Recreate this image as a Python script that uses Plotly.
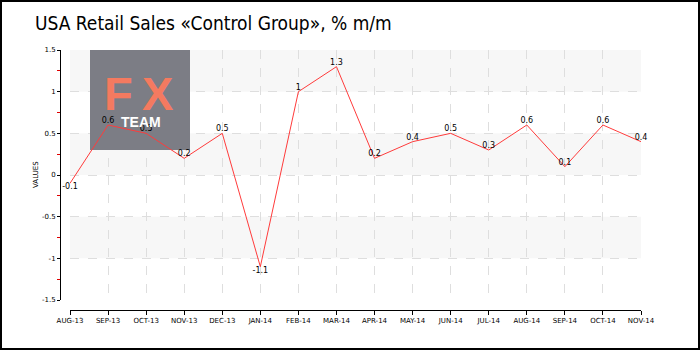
import plotly.graph_objects as go

months = ["AUG-13", "SEP-13", "OCT-13", "NOV-13", "DEC-13", "JAN-14", "FEB-14", "MAR-14",
          "APR-14", "MAY-14", "JUN-14", "JUL-14", "AUG-14", "SEP-14", "OCT-14", "NOV-14"]
values = [-0.1, 0.6, 0.5, 0.2, 0.5, -1.1, 1, 1.3, 0.2, 0.4, 0.5, 0.3, 0.6, 0.1, 0.6, 0.4]
y_ticks = [1.5, 1, 0.5, 0, -0.5, -1, -1.5]
y_tick_labels = ["1.5", "1", "0.5", "0", "-0.5", "-1", "-1.5"]
bands = [(1, 1.5), (0, 0.5), (-1, -0.5)]

W, H = 700, 350
ML, MR, MT, MB = 60, 59, 50, 40
PW, PH = W - ML - MR, H - MT - MB
XPAD, YPAD = 10, 10  # gap between axis lines and plot area
Y_MIN, Y_MAX = -1.5, 1.5

x_idx = list(range(len(months)))
labels = [str(v) for v in values]
positions = ["bottom center" if v < 0 else "top center" for v in values]

# pixel -> data helpers for the watermark box (decoration, not data)
def px_to_x(px):
    return (px - ML - XPAD) / (PW - XPAD) * (len(months) - 1)

def px_to_y(py):
    return Y_MAX - (py - MT) / (PH - YPAD) * (Y_MAX - Y_MIN)

wx0, wx1, wy0, wy1 = px_to_x(90), px_to_x(190), px_to_y(150), px_to_y(50)

fig = go.Figure()
fig.add_trace(go.Scatter(
    x=[wx0, wx1, wx1, wx0, wx0], y=[wy0, wy0, wy1, wy1, wy0], mode="lines",
    fill="toself", fillcolor="#7c7d85", line=dict(width=0), hoverinfo="skip",
))
fig.add_trace(go.Scatter(
    x=x_idx, y=values, mode="lines+text", text=labels, textposition=positions,
    line=dict(color="#ff3b3b", width=1),
    textfont=dict(family="DejaVu Sans", size=8, color="#000"),
    cliponaxis=False, hoverinfo="skip",
))

shapes = []
for y0, y1 in bands:
    shapes.append(dict(type="rect", xref="x domain", yref="y", x0=0, x1=1, y0=y0, y1=y1,
                       fillcolor="#f7f7f7", line=dict(width=0), layer="below"))
# outer border
shapes.append(dict(type="rect", xref="paper", yref="paper",
                   x0=-(ML - 1) / PW, x1=1 + (MR - 1) / PW,
                   y0=-(MB - 1) / PH, y1=1 + (MT - 1) / PH,
                   line=dict(color="#000", width=2), fillcolor="rgba(0,0,0,0)"))

def ann_px(text, px, py, size, color, angle=0, family="Liberation Sans"):
    return dict(text=text, xref="paper", yref="paper", x=(px - ML) / PW, y=(H - MB - py) / PH,
                showarrow=False, textangle=angle, font=dict(family=family, size=size, color=color),
                xanchor="center", yanchor="middle")

annotations = [
    ann_px("<b>F</b>", 118, 94, 47, "#f47a60"),
    ann_px("<b>X</b>", 157, 94, 47, "#f47a60"),
    ann_px("<b>TEAM</b>", 141, 122, 14, "#ffffff"),
    ann_px("VALUES", 36, 175, 7, "#000", angle=-90, family="DejaVu Sans"),
]

fig.update_layout(
    width=W, height=H,
    margin=dict(l=ML, r=MR, t=MT, b=MB),
    paper_bgcolor="#ffffff", plot_bgcolor="#ffffff",
    showlegend=False,
    title=dict(text="USA Retail Sales «Control Group», % m/m", xref="container", yref="container",
               x=35 / W, xanchor="left", y=1 - 23 / H, yanchor="middle",
               font=dict(family="DejaVu Sans Condensed, Roboto", size=19, weight=300, color="#000")),
    xaxis=dict(domain=[XPAD / PW, 1], range=[0, len(months) - 1], anchor="free", position=0,
               tickmode="array", tickvals=x_idx, ticktext=months,
               showline=True, linecolor="#000", linewidth=1,
               ticks="outside", ticklen=4, tickcolor="#000",
               showgrid=True, gridcolor="#dedede", griddash="dash", gridwidth=1,
               zeroline=False, tickfont=dict(family="DejaVu Sans", size=7, color="#000")),
    yaxis=dict(domain=[YPAD / PH, 1], range=[Y_MIN, Y_MAX], anchor="free", position=0,
               tickmode="array", tickvals=y_ticks, ticktext=y_tick_labels,
               showline=True, linecolor="#000", linewidth=1,
               ticks="outside", ticklen=3, tickcolor="#000",
               minor=dict(dtick=0.25, tick0=0, ticks="outside", ticklen=3, tickcolor="#e00000", showgrid=False),
               showgrid=True, gridcolor="#dedede", griddash="dash", gridwidth=1,
               zeroline=False, tickfont=dict(family="DejaVu Sans", size=7, color="#000")),
    shapes=shapes, annotations=annotations,
)

fig.write_html("out.html")
